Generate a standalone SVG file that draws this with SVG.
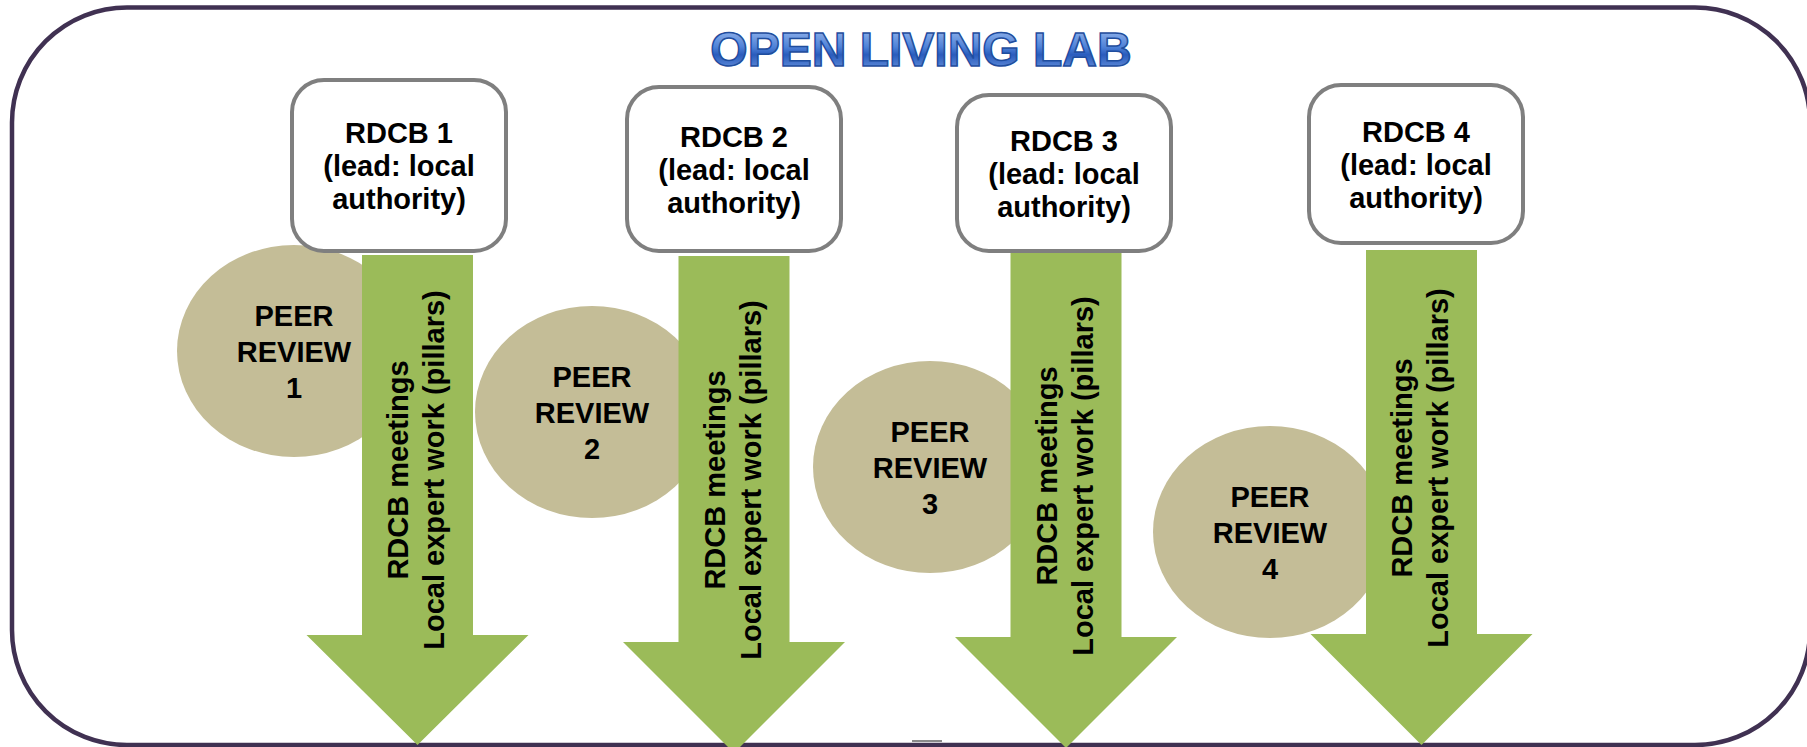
<svg xmlns="http://www.w3.org/2000/svg" width="1807" height="747" viewBox="0 0 1807 747">
<defs>
<linearGradient id="tg" x1="0" y1="0" x2="0" y2="1">
<stop offset="0" stop-color="#a9c4f2"/>
<stop offset="0.45" stop-color="#4f82d8"/>
<stop offset="0.6" stop-color="#2a5cbd"/>
<stop offset="1" stop-color="#7aa3e6"/>
</linearGradient>
</defs>
<style>
.frame{fill:#ffffff;stroke:#403152;stroke-width:4.5}
.box{fill:#ffffff;stroke:#7f7f7f;stroke-width:4}
.ell{fill:#c4bd97}
.arr{fill:#9bbb59}
.t{font-family:"Liberation Sans",Arial,sans-serif;font-weight:bold;font-size:29px;fill:#000000;text-anchor:middle}
.title{font-family:"Liberation Sans",Arial,sans-serif;font-weight:bold;font-size:48px;fill:url(#tg);stroke:#1f4d9e;stroke-width:1.5;text-anchor:middle}
</style>
<rect class="frame" x="12" y="7.5" width="1798" height="737.5" rx="115" ry="115"/>
<rect x="912" y="740" width="30" height="2" fill="#8a8a8a"/>
<text class="title" x="921" y="66">OPEN LIVING LAB</text>

<g id="peer1"><ellipse class="ell" cx="294" cy="351" rx="117" ry="106"/>
<text class="t"><tspan x="294" y="325.5">PEER</tspan><tspan x="294" y="361.5">REVIEW</tspan><tspan x="294" y="397.5">1</tspan></text></g>
<g id="peer2"><ellipse class="ell" cx="592" cy="412" rx="117" ry="106"/>
<text class="t"><tspan x="592" y="386.5">PEER</tspan><tspan x="592" y="422.5">REVIEW</tspan><tspan x="592" y="458.5">2</tspan></text></g>
<g id="peer3"><ellipse class="ell" cx="930" cy="467" rx="117" ry="106"/>
<text class="t"><tspan x="930" y="441.5">PEER</tspan><tspan x="930" y="477.5">REVIEW</tspan><tspan x="930" y="513.5">3</tspan></text></g>
<g id="peer4"><ellipse class="ell" cx="1270" cy="532" rx="117" ry="106"/>
<text class="t"><tspan x="1270" y="506.5">PEER</tspan><tspan x="1270" y="542.5">REVIEW</tspan><tspan x="1270" y="578.5">4</tspan></text></g>

<g id="rdcb1"><rect class="box" x="292" y="80" width="214" height="171" rx="32"/>
<text class="t"><tspan x="399" y="143">RDCB 1</tspan><tspan x="399" y="176">(lead: local</tspan><tspan x="399" y="209">authority)</tspan></text></g>
<g id="rdcb2"><rect class="box" x="627" y="87" width="214" height="164" rx="32"/>
<text class="t"><tspan x="734" y="146.5">RDCB 2</tspan><tspan x="734" y="179.5">(lead: local</tspan><tspan x="734" y="212.5">authority)</tspan></text></g>
<g id="rdcb3"><rect class="box" x="957" y="95" width="214" height="156" rx="32"/>
<text class="t"><tspan x="1064" y="150.5">RDCB 3</tspan><tspan x="1064" y="183.5">(lead: local</tspan><tspan x="1064" y="216.5">authority)</tspan></text></g>
<g id="rdcb4"><rect class="box" x="1309" y="85" width="214" height="158" rx="32"/>
<text class="t"><tspan x="1416" y="141.5">RDCB 4</tspan><tspan x="1416" y="174.5">(lead: local</tspan><tspan x="1416" y="207.5">authority)</tspan></text></g>

<g id="connectors">
<g id="arrow1"><polygon class="arr" points="362,255 473,255 473,635 528.5,635 417.5,745 306.5,635 362,635"/>
<text class="t" transform="translate(408,470) rotate(-90)"><tspan x="0" y="0">RDCB meetings</tspan><tspan x="0" y="36">Local expert work (pillars)</tspan></text></g>
<g id="arrow2"><polygon class="arr" points="678.5,256 789.5,256 789.5,642 845,642 734,753 623,642 678.5,642"/>
<text class="t" transform="translate(724.5,480) rotate(-90)"><tspan x="0" y="0">RDCB meetings</tspan><tspan x="0" y="36">Local expert work (pillars)</tspan></text></g>
<g id="arrow3"><polygon class="arr" points="1010.5,253 1121.5,253 1121.5,637 1177,637 1066,748 955,637 1010.5,637"/>
<text class="t" transform="translate(1056.5,476) rotate(-90)"><tspan x="0" y="0">RDCB meetings</tspan><tspan x="0" y="36">Local expert work (pillars)</tspan></text></g>
<g id="arrow4"><polygon class="arr" points="1366,250 1477,250 1477,634 1532.5,634 1421.5,745 1310.5,634 1366,634"/>
<text class="t" transform="translate(1412,468) rotate(-90)"><tspan x="0" y="0">RDCB meetings</tspan><tspan x="0" y="36">Local expert work (pillars)</tspan></text></g>
</g>
</svg>
